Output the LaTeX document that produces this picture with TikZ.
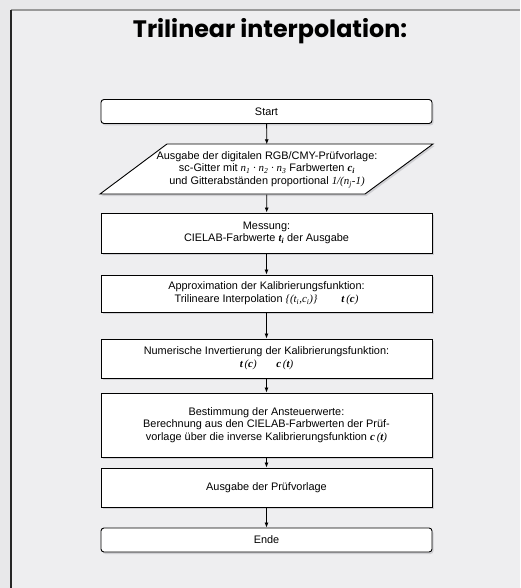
\documentclass[tikz,border=0pt]{standalone}
\usepackage{fontspec}
\setmainfont{Liberation Sans}
\newfontfamily\titlefont{Poppins}
\newfontfamily\mathserif{Liberation Serif}
\usetikzlibrary{arrows.meta,shadows}
\definecolor{bgcol}{HTML}{EEEEF0}
\definecolor{outcol}{HTML}{E8E8EA}
\definecolor{shcol}{HTML}{C8C8CC}
\newcommand{\vi}[1]{{\mathserif\itshape #1}}
\newcommand{\vb}[1]{{\mathserif\bfseries\itshape #1}}
\tikzset{
  box/.style={draw=black, line width=0.9pt, fill=white, minimum width=331pt, inner sep=0pt,
    align=center, font=\fontsize{10.9}{12.6}\selectfont,
    drop shadow={shadow xshift=1.5pt, shadow yshift=-2pt, fill=shcol, opacity=0.8}},
  rbox/.style={box, rounded corners=3pt},
  conn/.style={-{Latex[length=5pt,width=4pt]}, line width=0.8pt},
  txt/.style={align=center, font=\fontsize{10.9}{12.6}\selectfont, inner sep=0pt}
}
\begin{document}
\begin{tikzpicture}[x=1pt,y=-1pt]
\useasboundingbox (0,0) rectangle (520,588);
\fill[outcol] (0,0) rectangle (520,588);
\fill[bgcol] (11,10) rectangle (520,588);
\draw[line width=1.5pt, gray!80] (11,10) -- (520,10);
\draw[line width=1.2pt, black!85] (11,10) -- (11,588);
\node (title) at (270,31) {\titlefont\bfseries\fontsize{23.8}{28}\selectfont Trilinear interpolation:};

\node[rbox, minimum height=24pt] (start) at (266.5,111.5) {Start};

\fill[shcol, opacity=0.8] (168.5,146) -- (434.5,146) -- (366.5,196) -- (101.5,196) -- cycle;
\draw[line width=0.9pt, fill=white] (167,144) -- (433,144) -- (365,194) -- (100,194) -- cycle;
\node[txt, minimum height=50pt, minimum width=200pt] (ausg) at (267,169.5) {Ausgabe der digitalen RGB/CMY-Prüfvorlage:\\
sc-Gitter mit \vi{n\textsubscript{1} · n\textsubscript{2} · n\textsubscript{3}} Farbwerten \vb{c\textsubscript{i}}\\
und Gitterabständen proportional \vi{1/(n\textsubscript{j}-1)}};

\node[box, minimum height=40pt] (mess) at (266.5,233) {Messung:\\CIELAB-Farbwerte \vb{t\textsubscript{i}} der Ausgabe};
\node[box, minimum height=37pt] (appr) at (266.5,293.5) {Approximation der Kalibrierungsfunktion:\\Trilineare Interpolation \vi{\{(t\textsubscript{i},c\textsubscript{i})\}}\hspace{2.2em}\vb{t}\,\vi{(}\vb{c}\vi{)}};
\node[box, minimum height=39pt] (num) at (266.5,358.5) {Numerische Invertierung der Kalibrierungsfunktion:\\\vb{t}\,\vi{(}\vb{c}\vi{)}\hspace{1.8em}\vb{c}\,\vi{(}\vb{t}\vi{)}};
\node[box, minimum height=64pt] (best) at (266.5,425) {Bestimmung der Ansteuerwerte:\\Berechnung aus den CIELAB-Farbwerten der Prüf-\\vorlage über die inverse Kalibrierungsfunktion \vb{c}\,\vi{(}\vb{t}\vi{)}};
\node[box, minimum height=39pt] (pruef) at (266.5,487.5) {Ausgabe der Prüfvorlage};
\node[rbox, minimum height=24pt] (ende) at (266.5,540) {Ende};

\draw[conn] (start) -- (ausg);
\draw[conn] (ausg) -- (mess);
\draw[conn] (mess) -- (appr);
\draw[conn] (appr) -- (num);
\draw[conn] (num) -- (best);
\draw[conn] (best) -- (pruef);
\draw[conn] (pruef) -- (ende);
\end{tikzpicture}
\end{document}
